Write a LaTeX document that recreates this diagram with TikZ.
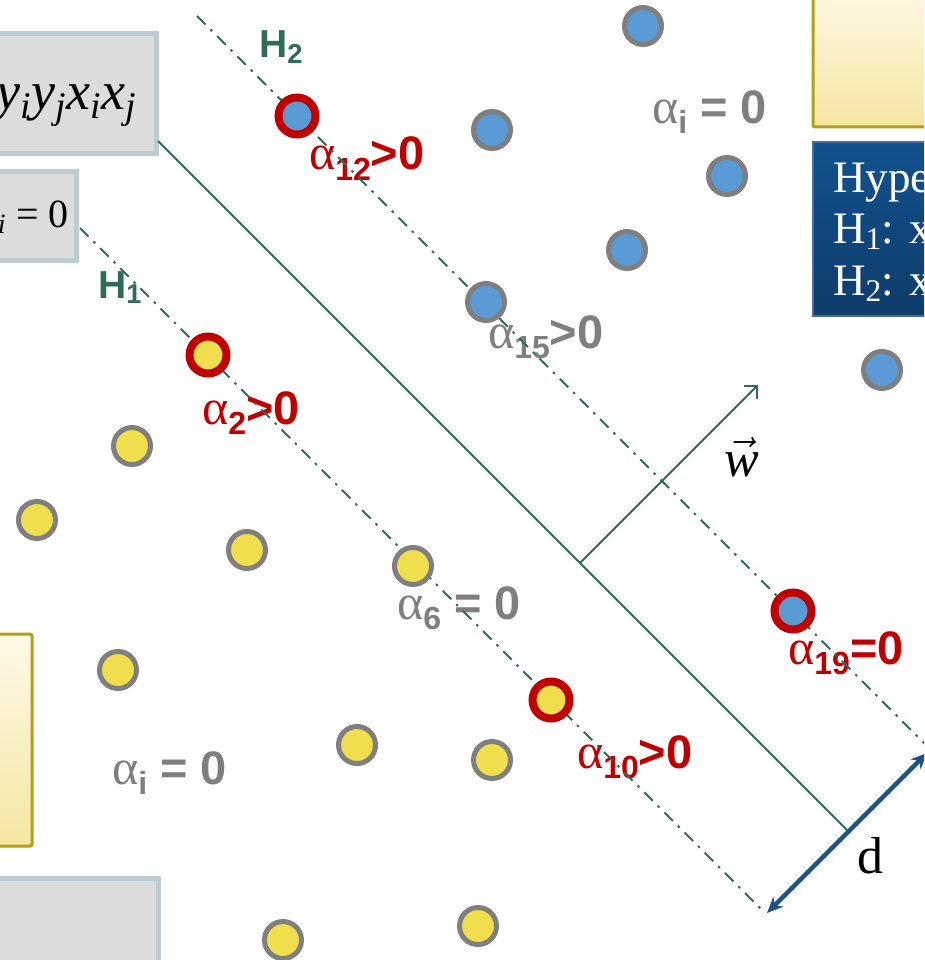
\RequirePackage{fix-cm}
\documentclass[tikz,border=0pt]{standalone}
\usepackage{fontspec}
\setmainfont{Liberation Serif}
\newfontfamily\lsans{Liberation Sans}
\usetikzlibrary{arrows.meta}

\definecolor{svmgreen}{HTML}{2F6B55}
\definecolor{svmred}{HTML}{C00000}
\definecolor{svmgray}{HTML}{7F7F7F}
\definecolor{svmblue}{HTML}{5B9BD5}
\definecolor{svmyellow}{HTML}{F0DE4C}
\definecolor{boxgray}{HTML}{DCDCDC}
\definecolor{boxedge}{HTML}{BBCDD0}
\definecolor{creamtop}{HTML}{FFF9E8}
\definecolor{creambot}{HTML}{F5E6A2}
\definecolor{olive}{HTML}{B3A013}
\definecolor{navytop}{HTML}{12528F}
\definecolor{navybot}{HTML}{0E3C69}
\definecolor{navyedge}{HTML}{4A6F95}
\definecolor{darrow}{HTML}{1F5287}

\newcommand{\alab}[2]{{\fontsize{50}{50}\selectfont α}\raisebox{-10pt}{\lsans\bfseries\fontsize{32}{32}\selectfont #1}{\lsans\bfseries\fontsize{47}{47}\selectfont #2}}

\begin{document}
\begin{tikzpicture}[x=1pt,y=-1pt,
        datapt/.style={circle,draw=svmgray,line width=5pt,inner sep=0pt,minimum size=37pt},
        bluept/.style={datapt,fill=svmblue},
        yellowpt/.style={datapt,fill=svmyellow},
        supvec/.style={draw=svmred,line width=8pt},
        marginline/.style={svmgreen,line width=2pt,dash pattern=on 12pt off 7pt on 2.5pt off 7pt},
        greybox/.style={fill=boxgray,draw=boxedge,line width=5pt},
        creambox/.style={top color=creamtop,bottom color=creambot,draw=olive,line width=3pt,rounded corners=2pt},
        lab/.style={inner sep=0pt,anchor=base west}
    ]
    \useasboundingbox (0,0) rectangle (924,960);
    \clip (0,0) rectangle (924,960);
    \fill[white] (0,0) rectangle (924,960);

    \draw[greybox] (-20,34) rectangle (156,154);
    \draw[greybox] (-20,172) rectangle (76,260);
    \draw[greybox] (-20,878) rectangle (158,990);
    \draw[creambox] (-20,634) rectangle (32,846);
    \draw[creambox] (813,-20) rectangle (950,127);
    \draw[top color=navytop,bottom color=navybot,draw=navyedge,line width=1.5pt] (813,142) rectangle (950,316);

    \node[lab,anchor=base east,font=\itshape\fontsize{54}{54}\selectfont] (dualsum) at (137,110)
        {y\textsubscript{i}y\textsubscript{j}x\textsubscript{i}x\textsubscript{j}};
    \node[lab,anchor=base east,font=\fontsize{40}{40}\selectfont] (constr) at (69,227)
        {\textit{y}\textsubscript{\textit{i}} = 0};
    \node[lab,text=white,font=\fontsize{45}{45}\selectfont] (hyper) at (833,193) {Hype};
    \node[lab,text=white,font=\fontsize{45}{45}\selectfont] (hone) at (833,243) {H\textsubscript{1}: x\textsubscript{i}};
    \node[lab,text=white,font=\fontsize{45}{45}\selectfont] (htwo) at (833,295) {H\textsubscript{2}: x\textsubscript{i}};

    \node[lab,text=svmgreen,font=\lsans\bfseries\fontsize{39}{39}\selectfont] (htwolab) at (259,58) {H\textsubscript{2}};
    \node[lab,text=svmgreen,font=\lsans\bfseries\fontsize{39}{39}\selectfont] (honelab) at (98,298) {H\textsubscript{1}};
    \node[lab,font=\fontsize{52}{52}\selectfont] (dlab) at (857,873) {d};
    \node[lab,font=\fontsize{52}{52}\selectfont] (wlab) at (724,476) {$\vec{\mbox{\itshape w}}$};

    \node[lab,text=svmred] (a12) at (309,170) {\alab{12}{>0}};
    \node[lab,text=svmgray] (aitop) at (652,124) {\alab{i}{ = 0}};
    \node[lab,text=svmgray] (a15) at (488,348) {\alab{15}{>0}};
    \node[lab,text=svmred] (a2) at (202,424) {\alab{2}{>0}};
    \node[lab,text=svmgray] (a6) at (397,619) {\alab{6}{ = 0}};
    \node[lab,text=svmred] (a10) at (577,768) {\alab{10}{>0}};
    \node[lab,text=svmred] (a19) at (788,664) {\alab{19}{=0}};
    \node[lab,text=svmgray] (aibot) at (112,784) {\alab{i}{ = 0}};

    \coordinate (htwoa) at (197,16);
    \coordinate (htwob) at (940,759);
    \coordinate (honea) at (80,228);
    \coordinate (honeb) at (762,910);
    \coordinate (hzeroa) at (158,141);
    \coordinate (hzerob) at (848,831);
    \coordinate (wfoot) at (580,563);
    \coordinate (wtip) at (758,385);
    \coordinate (dlow) at (767,913);
    \coordinate (dhigh) at (927,753);

    \draw[marginline] (htwoa) -- (htwob);
    \draw[marginline] (honea) -- (honeb);
    \draw[svmgreen,line width=2pt] (hzeroa) -- (hzerob);
    \draw[svmgreen,line width=2pt,-{Straight Barb[length=9pt,width=18pt]}] (wfoot) -- (wtip);
    \draw[darrow,line width=4.5pt,{Stealth[length=16pt,width=14pt]}-{Stealth[length=16pt,width=14pt]}] (dlow) -- (dhigh);

    \node[bluept] (p1) at (643,26) {};
    \node[bluept] (p2) at (492,130) {};
    \node[bluept] (p3) at (727,176) {};
    \node[bluept] (p4) at (627,250) {};
    \node[bluept] (p5) at (486,302) {};
    \node[bluept] (p6) at (882,370) {};
    \node[bluept,supvec] (p12) at (297,116) {};
    \node[bluept,supvec] (p19) at (793,611) {};

    \node[yellowpt] (n1) at (132,446) {};
    \node[yellowpt] (n2) at (37,520) {};
    \node[yellowpt] (n3) at (247,550) {};
    \node[yellowpt] (n6) at (413,566) {};
    \node[yellowpt] (n4) at (118,670) {};
    \node[yellowpt] (n5) at (357,745) {};
    \node[yellowpt] (n7) at (492,760) {};
    \node[yellowpt] (n8) at (283,940) {};
    \node[yellowpt] (n9) at (478,926) {};
    \node[yellowpt,supvec] (n2s) at (208,355) {};
    \node[yellowpt,supvec] (n10) at (551,700) {};
\end{tikzpicture}
\end{document}
